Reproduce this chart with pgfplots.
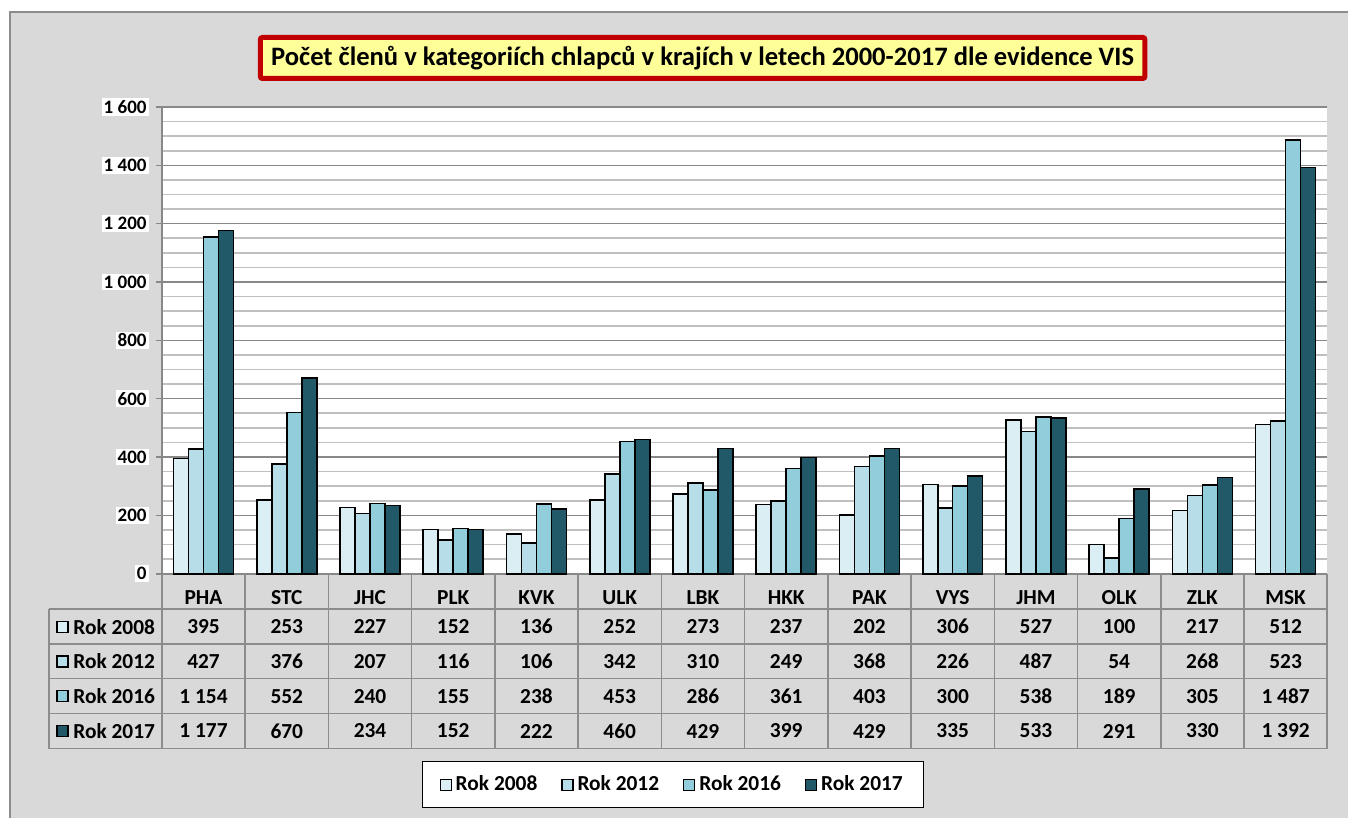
\documentclass[border=0pt]{standalone}
\usepackage{fontspec}
\setmainfont{Carlito}
\usepackage{pgfplots}
\usepackage{pgfplotstable}
\pgfplotsset{compat=1.18}
\definecolor{cA}{HTML}{DAEEF3}
\definecolor{cB}{HTML}{B7DEE8}
\definecolor{cC}{HTML}{92CDDC}
\definecolor{cD}{HTML}{215968}
\definecolor{bgc}{HTML}{D9D9D9}
\definecolor{framec}{HTML}{8C8C8C}
\definecolor{majg}{HTML}{888888}
\definecolor{ming}{HTML}{C0C0C0}
\definecolor{titred}{HTML}{C00000}
\definecolor{titfill}{HTML}{FFFF99}
\pgfplotstableread{
x a b c d
0 395 427 1154 1177
1 253 376 552 670
2 227 207 240 234
3 152 116 155 152
4 136 106 238 222
5 252 342 453 460
6 273 310 286 429
7 237 249 361 399
8 202 368 403 429
9 306 226 300 335
10 527 487 538 533
11 100 54 189 291
12 217 268 305 330
13 512 523 1487 1392
}\datatable
\newcommand{\tfont}{\fontsize{10.7}{12}\selectfont\bfseries}
\begin{document}
\begin{tikzpicture}
\begin{scope}[x=0.5pt,y=-0.5pt]
\fill[white] (0,0) rectangle (1349,818);
\fill[bgc] (10,12) rectangle (1349,818);
\draw[framec, line width=0.75pt] (10,818) -- (10,12) -- (1349,12);
\end{scope}
\begin{axis}[
  at={(81pt,-287pt)}, anchor=south west,
  scale only axis, width=583pt, height=233.5pt,
  xmin=-0.5, xmax=13.5, ymin=0, ymax=1600,
  enlargelimits=false,
  axis background/.style={fill=white},
  axis x line*=bottom, axis y line*=left,
  axis line style={majg, line width=0.8pt, -},
  ybar=0pt, bar width=7.5pt,
  xtick={0,...,13},
  xticklabels={PHA,STC,JHC,PLK,KVK,ULK,LBK,HKK,PAK,VYS,JHM,OLK,ZLK,MSK},
  xtick style={draw=none},
  xticklabel style={anchor=center, yshift=-9pt, font=\tfont},
  ytick={0,200,...,1600},
  minor y tick num=3,
  ymajorgrids, yminorgrids,
  major grid style={majg, line width=0.8pt},
  minor grid style={ming, line width=0.8pt},
  ytick style={majg, line width=0.8pt},
  tick align=outside, major tick length=3pt, minor tick length=0pt,
  yticklabel style={fill=white, inner sep=1pt, anchor=east, xshift=-3.5pt, font=\fontsize{9.5}{10}\selectfont\bfseries},
  /pgf/number format/.cd, 1000 sep={\ }, assume math mode=true, /pgfplots/.cd,
  every axis plot/.append style={draw=black, line width=0.8pt},
  legend image code/.code={\draw[#1, draw=black, line width=0.6pt] (0pt,-2.75pt) rectangle (5.5pt,2.75pt);},
  legend columns=4,
  legend style={at={(0.4387,-0.452)}, anchor=center, draw=black, fill=white, line width=0.7pt,
    font=\tfont, inner xsep=8.5pt, inner ysep=5pt,
    /tikz/every even column/.append style={column sep=10pt}},
  clip=false,
]
\addplot[fill=cA] table[x=x, y=a] {\datatable};
\addplot[fill=cB] table[x=x, y=b] {\datatable};
\addplot[fill=cC] table[x=x, y=c] {\datatable};
\addplot[fill=cD] table[x=x, y=d] {\datatable};
\legend{Rok 2008, Rok 2012, Rok 2016, Rok 2017}
\end{axis}
\begin{scope}[x=0.5pt,y=-0.5pt]
% title
\draw[titred, fill=titfill, line width=2.5pt, rounded corners=1pt] (260.5,37.5) rectangle (1145.5,78.5);
\node[font=\fontsize{13.3}{15}\selectfont\bfseries] at (703,58) {Počet členů v kategoriích chlapců v krajích v letech 2000-2017 dle evidence VIS};
% table grid
\foreach \k in {0,...,14}{
  \draw[framec, line width=0.8pt] ({162+\k*83.2857},574) -- ({162+\k*83.2857},749);
}
\foreach \yy in {609.5,644.5,679,714,749}{
  \draw[framec, line width=0.8pt] (49,\yy) -- (1328,\yy);
}
\draw[framec, line width=0.8pt] (49,609.5) -- (49,749);
% row labels
\foreach \c/\lab [count=\r from 0] in {cA/Rok 2008, cB/Rok 2012, cC/Rok 2016, cD/Rok 2017}{
  \filldraw[fill=\c, draw=black, line width=0.6pt] (57,{627+\r*34.8-5.5}) rectangle (68,{627+\r*34.8+5.5});
  \node[font=\tfont, anchor=west, inner sep=1.5pt] at (70,{627+\r*34.8}) {\lab};
}
% values
\foreach \col [count=\r from 0] in {a,b,c,d}{
  \foreach \i in {0,...,13}{
    \pgfplotstablegetelem{\i}{\col}\of\datatable
    \node[font=\tfont] at ({162+(\i+0.5)*83.2857},{627+\r*34.8}) {\pgfmathprintnumber[1000 sep={\ },assume math mode=true]{\pgfplotsretval}};
  }
}
\end{scope}
\end{tikzpicture}
\end{document}
